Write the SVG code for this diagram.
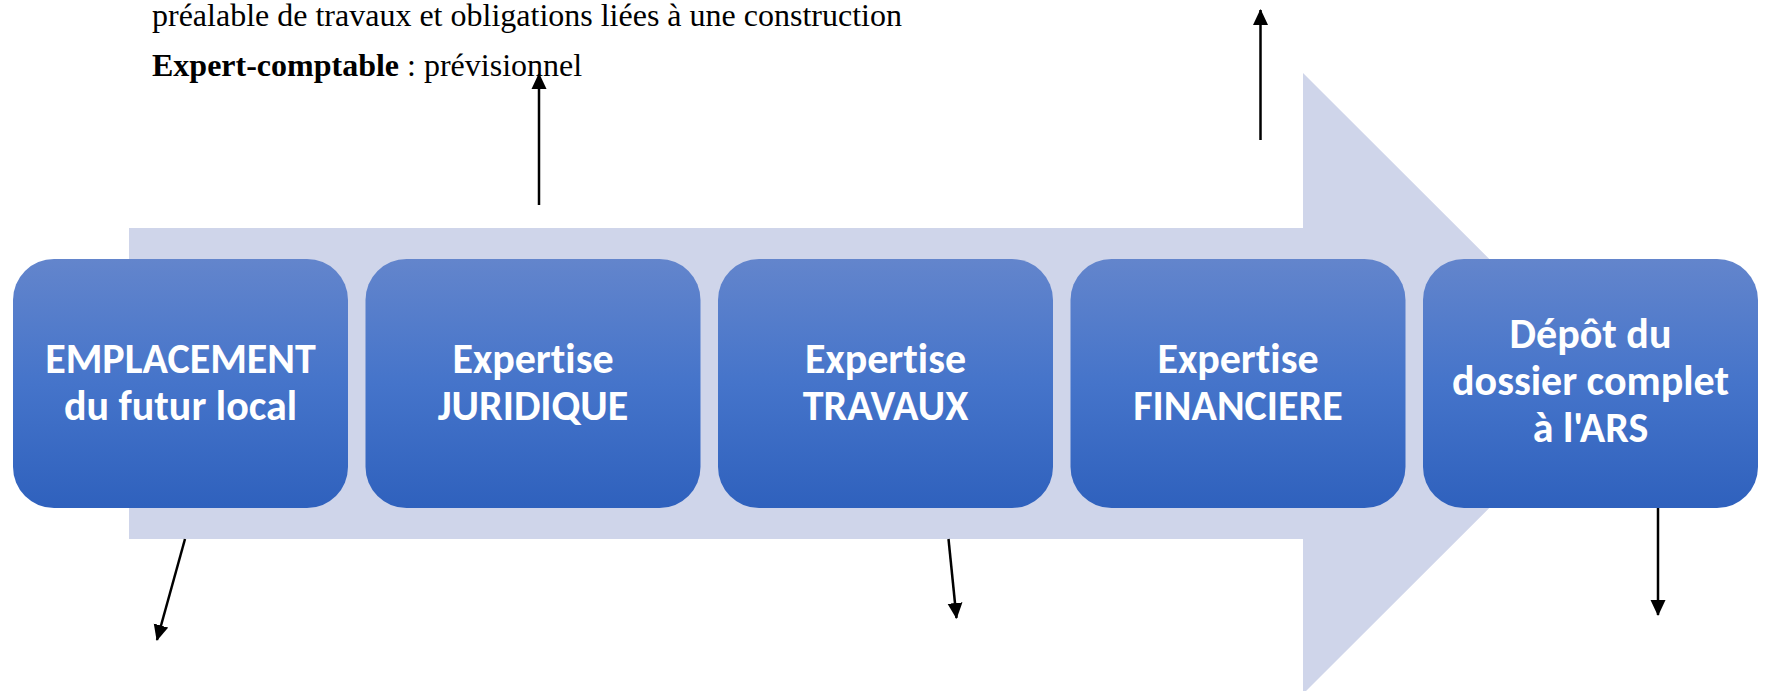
<svg xmlns="http://www.w3.org/2000/svg" width="1789" height="691" viewBox="0 0 1789 691">
<defs>
<linearGradient id="boxGrad" x1="0" y1="0" x2="0" y2="1">
<stop offset="0" stop-color="#6385CC"/>
<stop offset="0.5" stop-color="#4574CA"/>
<stop offset="1" stop-color="#2F61BD"/>
</linearGradient>
<marker id="arr" markerUnits="userSpaceOnUse" markerWidth="16" markerHeight="16" viewBox="0 0 16 16" refX="15" refY="8" orient="auto">
<path d="M0,0.5 L16,8 L0,15.5 Z" fill="#000"/>
</marker>
<style>
.box{fill:url(#boxGrad);}
.lbl{font-family:Calibri,Carlito,Lato,"Open Sans",sans-serif;font-weight:bold;font-size:42px;fill:#FFFFFF;text-anchor:middle;font-variant-ligatures:none;font-feature-settings:"liga" 0;}
.note{font-family:"Liberation Serif","Times New Roman",serif;font-size:32px;fill:#000;}
.conn{stroke:#000;stroke-width:2.5;fill:none;marker-end:url(#arr);}
</style>
</defs>
<rect width="1789" height="691" fill="#FFFFFF"/>
<g id="band">
<polygon points="129,228 1303,228 1303,73 1614,383.5 1303,694 1303,539 129,539" fill="#CFD5EA"/>
</g>
<g id="notes">
<text class="note" x="152" y="25.5">préalable de travaux et obligations liées à une construction</text>
<text class="note" x="152" y="76"><tspan font-weight="bold">Expert-comptable</tspan> : prévisionnel</text>
</g>
<g id="node1">
<rect class="box" x="13" y="259" width="335" height="249" rx="41" ry="41"/>
<text class="lbl" x="180.5" y="372.5">EMPLACEMENT</text>
<text class="lbl" x="180.5" y="420">du futur local</text>
</g>
<g id="node2">
<rect class="box" x="365.5" y="259" width="335" height="249" rx="41" ry="41"/>
<text class="lbl" x="533" y="372.5">Expertise</text>
<text class="lbl" x="533" y="420">JURIDIQUE</text>
</g>
<g id="node3">
<rect class="box" x="718" y="259" width="335" height="249" rx="41" ry="41"/>
<text class="lbl" x="885.5" y="372.5">Expertise</text>
<text class="lbl" x="885.5" y="420">TRAVAUX</text>
</g>
<g id="node4">
<rect class="box" x="1070.5" y="259" width="335" height="249" rx="41" ry="41"/>
<text class="lbl" x="1238" y="372.5">Expertise</text>
<text class="lbl" x="1238" y="420">FINANCIERE</text>
</g>
<g id="node5">
<rect class="box" x="1423" y="259" width="335" height="249" rx="41" ry="41"/>
<text class="lbl" x="1590.5" y="348">Dépôt du</text>
<text class="lbl" x="1590.5" y="395">dossier complet</text>
<text class="lbl" x="1590.5" y="442">à l'ARS</text>
</g>
<g id="connectors">
<line class="conn" x1="539" y1="205" x2="539" y2="74"/>
<line class="conn" x1="1260.5" y1="140" x2="1260.5" y2="10"/>
<line class="conn" x1="185" y1="539" x2="157" y2="640"/>
<line class="conn" x1="948.5" y1="539" x2="956.5" y2="618"/>
<line class="conn" x1="1658" y1="508" x2="1658" y2="615"/>
</g>
</svg>
